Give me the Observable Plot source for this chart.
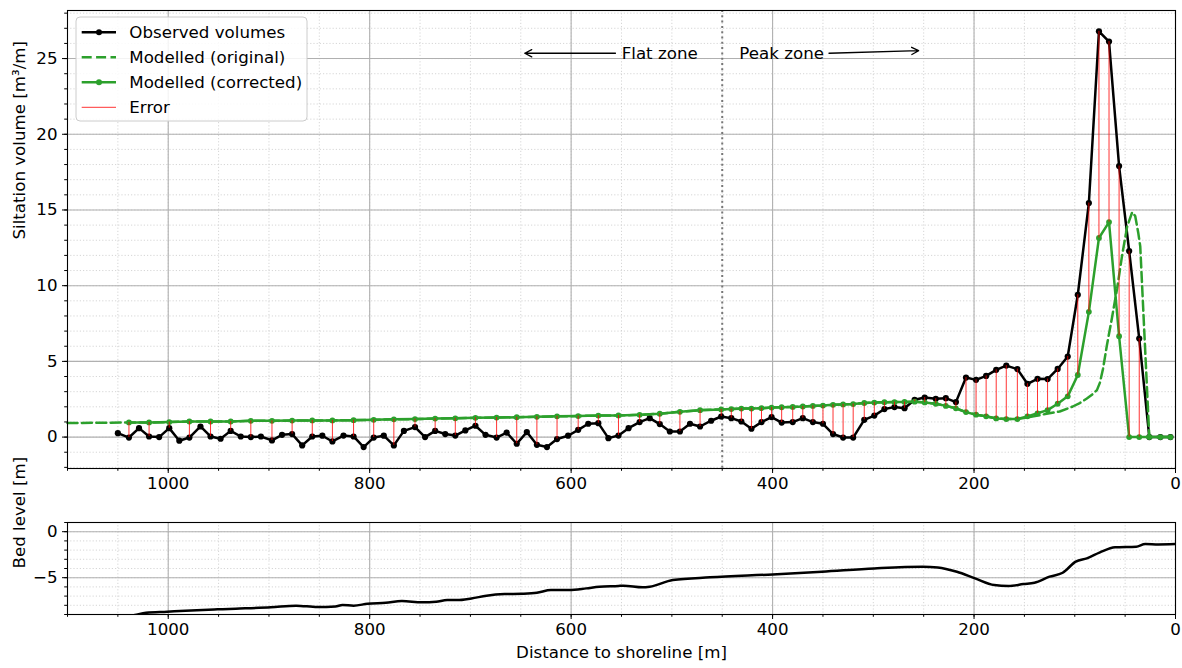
<!DOCTYPE html>
<html>
<head>
<meta charset="utf-8">
<script src="https://cdn.jsdelivr.net/npm/d3@7"></script>
<script src="https://cdn.jsdelivr.net/npm/@observablehq/plot@0.6"></script>
<style>
  body { margin: 0; background: #fff; }
  #wrap { position: relative; width: 1182px; height: 668px; font-family: "DejaVu Sans", sans-serif; background: #fff; }
  #wrap svg { position: absolute; left: 0; }
</style>
</head>
<body>
<div id="wrap"></div>
<script>
// ---------- data ----------
const obsX = [1050,1039,1029,1019,1009,999,989,979,968,958,
  948,938,928,918,908,897,887,877,867,857,
  847,837,826,816,806,796,786,776,766,755,
  745,735,725,715,705,695,685,674,664,654,
  644,634,624,614,603,593,583,573,563,553,
  543,532,522,512,502,492,482,472,461,451,
  441,431,421,411,401,391,380,370,360,350,
  340,330,320,309,299,289,279,269,259,249,
  238,228,218,208,198,188,178,168,157,147,
  137,127,117,107,97,86,76,66,56,46,
  36,26,15,5];
const obsY = [0.26,-0.03,0.59,0.04,0.0,0.59,-0.24,-0.03,0.7,0.04,
  -0.11,0.41,0.04,0.0,0.04,-0.22,0.15,0.2,-0.55,0.04,
  0.09,-0.29,0.1,0.04,-0.66,-0.03,0.09,-0.55,0.41,0.66,
  0.0,0.41,0.2,0.1,0.44,0.75,0.15,-0.03,0.3,-0.44,
  0.33,-0.51,-0.66,-0.13,0.09,0.48,0.88,0.92,-0.07,0.1,
  0.59,0.99,1.25,0.86,0.37,0.37,0.88,0.7,1.08,1.36,
  1.25,1.03,0.55,0.99,1.32,0.96,0.99,1.25,0.99,0.88,
  0.2,-0.03,-0.03,1.14,1.42,1.85,1.98,1.91,2.46,2.61,
  2.53,2.57,2.31,3.93,3.78,4.04,4.44,4.72,4.49,3.52,
  3.85,3.83,4.5,5.32,9.4,15.46,26.8,26.12,17.9,12.29,
  6.51,0,0,0];

const corrX = [1039,1019,999,979,958,938,918,897,877,857,
  837,816,796,776,755,735,715,695,674,654,
  634,614,593,573,553,532,512,492,472,451,
  441,431,421,411,401,391,380,370,360,350,
  340,330,320,309,299,289,279,269,259,249,
  238,228,218,208,198,188,178,168,157,147,
  137,127,117,107,97,86,76,66,56,46,
  36,26,15,5];
const corrY = [0.965,0.965,0.99,1.03,1.03,1.03,1.075,1.075,1.09,1.10,
  1.10,1.12,1.14,1.17,1.19,1.22,1.24,1.27,1.29,1.31,
  1.34,1.37,1.39,1.42,1.43,1.47,1.54,1.67,1.78,1.83,
  1.85,1.88,1.88,1.91,1.95,1.97,1.99,2.02,2.06,2.08,
  2.13,2.16,2.18,2.25,2.28,2.30,2.31,2.32,2.34,2.29,
  2.20,2.06,1.90,1.65,1.48,1.37,1.23,1.19,1.19,1.37,
  1.57,1.78,2.20,2.69,4.10,8.27,13.15,14.20,6.66,0,
  0,0,0,0];

// original model: starts at the left edge, identical to corrected in the flat part, own curve in the peak
const origStartX = [1100];
const origStartY = [0.93];
const origPeakX = [147,138,128,115,102,95,88,82,78,75,72,68,63,58,53,48,43,40,37,35,32,29,26,5];
const origPeakY = [1.3,1.4,1.54,1.69,2.02,2.25,2.55,2.85,3.1,3.6,4.5,6.1,7.9,9.8,12.0,13.9,14.85,14.6,13.5,12.6,8.4,4.2,0,0];

const bedX = [1100,1060,1045,1033,1022,1001,983,951,933,898,873,852,834,827,816,802,784,768,748,734,723,713,699,684,666,649,634,620,602,585,572,553,548,529,522,499,462,400,351,299,251,236,217,199,180,166,151,140,125,112,99,88,75,60,39,30,17,0];
const bedY = [-9.8,-9.5,-9.3,-9.05,-8.82,-8.7,-8.59,-8.44,-8.37,-8.22,-8.04,-8.19,-8.12,-7.97,-8.04,-7.83,-7.72,-7.54,-7.68,-7.61,-7.43,-7.43,-7.25,-6.96,-6.78,-6.74,-6.63,-6.34,-6.34,-6.16,-5.98,-5.9,-5.87,-6.05,-5.98,-5.25,-4.96,-4.64,-4.35,-3.99,-3.80,-3.88,-4.35,-5.07,-5.8,-5.91,-5.69,-5.54,-4.89,-4.46,-3.26,-2.9,-2.25,-1.7,-1.63,-1.34,-1.38,-1.34];

const zoneDivider = [450];
const annText = ["Flat zone", "Peak zone"];
const annTextX = [549.8, 433];
const annTextY = [25.35, 25.35];
const arrowX1 = [556, 344];
const arrowY1 = [25.35, 25.35];
const arrowX2 = [646, 255];
const arrowY2 = [25.35, 25.52];

const xMajorTicks = [1000, 800, 600, 400, 200, 0];
const yTopTicks = [0, 5, 10, 15, 20, 25];
const yBedTicks = [-5, 0];
const legendLabels = ["Observed volumes", "Modelled (original)", "Modelled (corrected)", "Error"];
const yLabelTop = "Siltation volume [m³/m]";
const yLabelBed = "Bed level [m]";
const xLabel = "Distance to shoreline [m]";

// ---------- tables ----------
const obs = obsX.map((x, i) => ({x, y: obsY[i]}));
const corr = corrX.map((x, i) => ({x, y: corrY[i]}));
const obsByX = new Map(obs.map(d => [d.x, d.y]));
const errors = corr.map(d => ({x: d.x, y1: obsByX.get(d.x), y2: d.y}));
const orig = [
  ...origStartX.map((x, i) => ({x, y: origStartY[i]})),
  ...corr.filter(d => d.x >= 155),
  ...origPeakX.map((x, i) => ({x, y: origPeakY[i]}))
];
const bed = bedX.map((x, i) => ({x, y: bedY[i]}));
const ann = annText.map((t, i) => ({t, x: annTextX[i], y: annTextY[i]}));
const arrows = arrowX1.map((x1, i) => ({x1, y1: arrowY1[i], x2: arrowX2[i], y2: arrowY2[i]}));

const GREEN = "#2ca02c";
const FS = 16.67;
const fmt = d => d < 0 ? "\u2212" + Math.abs(d) : String(d);
const xMinor = d3.range(1100, -1, -50);
const yMinorTop = d3.range(-2, 29, 1);
const yMinorBed = d3.range(-9, 2, 1);

const W = 1182, ML = 67, MR = 7;
const minorGrid = {stroke: "#cbcbcb", strokeOpacity: 1, strokeWidth: 0.8, strokeDasharray: "1.2,2"};
const majorGrid = {stroke: "#b0b0b0", strokeOpacity: 1, strokeWidth: 1.1};
const baseStyle = {fontFamily: "DejaVu Sans", fontSize: FS + "px", color: "black", background: "transparent", overflow: "visible"};

// ---------- top panel ----------
const topPlot = Plot.plot({
  width: W, height: 500,
  marginLeft: ML, marginRight: MR, marginTop: 10, marginBottom: 32,
  style: baseStyle,
  x: {domain: [1100, 0], axis: null, label: null},
  y: {domain: [-2.075, 28.175], axis: null, label: null},
  marks: [
    Plot.gridX(xMinor, minorGrid),
    Plot.gridY(yMinorTop, minorGrid),
    Plot.gridX(xMajorTicks, majorGrid),
    Plot.gridY(yTopTicks, majorGrid),
    Plot.ruleX(zoneDivider, {stroke: "#777", strokeWidth: 2, strokeDasharray: "2,3.3"}),
    Plot.line(obs, {x: "x", y: "y", stroke: "black", strokeWidth: 2.5}),
    Plot.dot(obs, {x: "x", y: "y", r: 3.1, fill: "black", stroke: "none"}),
    Plot.line(orig, {x: "x", y: "y", stroke: GREEN, strokeWidth: 2.5, strokeDasharray: "10,4.4"}),
    Plot.line(corr, {x: "x", y: "y", stroke: GREEN, strokeWidth: 2.5}),
    Plot.dot(corr, {x: "x", y: "y", r: 2.9, fill: GREEN, stroke: "none"}),
    Plot.ruleX(errors, {x: "x", y1: "y1", y2: "y2", stroke: "red", strokeOpacity: 0.8, strokeWidth: 1}),
    Plot.arrow(arrows, {x1: "x1", y1: "y1", x2: "x2", y2: "y2", stroke: "black", strokeWidth: 1.3, headLength: 9, headAngle: 55, insetStart: 0, insetEnd: 0}),
    Plot.text(ann, {x: "x", y: "y", text: "t", textAnchor: "start", fontSize: FS, fill: "black"}),
    Plot.frame({stroke: "black", strokeWidth: 1.1}),
    Plot.axisX(xMinor, {anchor: "bottom", tickSize: 2.8, tickFormat: () => "", label: null}),
    Plot.axisX(xMajorTicks, {anchor: "bottom", tickSize: 5, tickPadding: 4, tickFormat: fmt, fontSize: FS, label: null}),
    Plot.axisY(yMinorTop, {anchor: "left", tickSize: 2.8, tickFormat: () => "", label: null}),
    Plot.axisY(yTopTicks, {anchor: "left", tickSize: 5, tickPadding: 5, tickFormat: fmt, fontSize: FS, label: null}),
    Plot.text([yLabelTop], {text: d => d, frameAnchor: "left", dx: -48, rotate: -90, fontSize: FS, fill: "black"})
  ]
});
topPlot.style.top = "0px";

// ---------- bottom panel ----------
const bedPlot = Plot.plot({
  width: W, height: 168,
  marginLeft: ML, marginRight: MR, marginTop: 22, marginBottom: 54,
  style: baseStyle,
  x: {domain: [1100, 0], axis: null, label: null},
  y: {domain: [-9, 1], axis: null, label: null},
  marks: [
    Plot.gridX(xMinor, minorGrid),
    Plot.gridY(yMinorBed, minorGrid),
    Plot.gridX(xMajorTicks, majorGrid),
    Plot.gridY(yBedTicks, majorGrid),
    Plot.line(bed, {x: "x", y: "y", stroke: "black", strokeWidth: 2.5, curve: "monotone-x", clip: true}),
    Plot.frame({stroke: "black", strokeWidth: 1.1}),
    Plot.axisX(xMinor, {anchor: "bottom", tickSize: 2.8, tickFormat: () => "", label: null}),
    Plot.axisX(xMajorTicks, {anchor: "bottom", tickSize: 5, tickPadding: 4, tickFormat: fmt, fontSize: FS, label: null}),
    Plot.axisY(yMinorBed, {anchor: "left", tickSize: 2.8, tickFormat: () => "", label: null}),
    Plot.axisY(yBedTicks, {anchor: "left", tickSize: 5, tickPadding: 5, tickFormat: fmt, fontSize: FS, label: null}),
    Plot.text([yLabelBed], {text: d => d, frameAnchor: "left", dx: -48, rotate: -90, fontSize: FS, fill: "black"}),
    Plot.text([xLabel], {text: d => d, frameAnchor: "bottom", dy: 43, fontSize: FS, fill: "black"})
  ]
});
bedPlot.style.top = "500px";

const wrap = document.getElementById("wrap");
wrap.appendChild(topPlot);
wrap.appendChild(bedPlot);

// ---------- legend ----------
const lg = d3.create("svg")
  .attr("width", 234).attr("height", 108)
  .style("position", "absolute").style("left", "75px").style("top", "16px")
  .style("font-family", "DejaVu Sans").style("font-size", FS + "px");
lg.append("rect").attr("x", 1).attr("y", 1).attr("width", 231).attr("height", 104)
  .attr("rx", 4).attr("fill", "white").attr("fill-opacity", 0.85).attr("stroke", "#cccccc").attr("stroke-width", 1);
const rowsY = [16.3, 41.3, 66.3, 91.3];
const swatch = [
  {stroke: "black", w: 2.5, dash: null, dot: "black"},
  {stroke: GREEN, w: 2.5, dash: "10,4.4", dot: null},
  {stroke: GREEN, w: 2.5, dash: null, dot: GREEN},
  {stroke: "red", w: 1, dash: null, dot: null, op: 0.8}
];
legendLabels.forEach((lab, i) => {
  const s = swatch[i];
  const ln = lg.append("line").attr("x1", 6.7).attr("x2", 41).attr("y1", rowsY[i]).attr("y2", rowsY[i])
    .attr("stroke", s.stroke).attr("stroke-width", s.w);
  if (s.dash) ln.attr("stroke-dasharray", s.dash);
  if (s.op) ln.attr("stroke-opacity", s.op);
  if (s.dot) lg.append("circle").attr("cx", 24).attr("cy", rowsY[i]).attr("r", 3).attr("fill", s.dot);
  lg.append("text").attr("x", 54.3).attr("y", rowsY[i]).attr("dy", "0.35em").attr("fill", "black").text(lab);
});
wrap.appendChild(lg.node());
</script>
</body>
</html>
